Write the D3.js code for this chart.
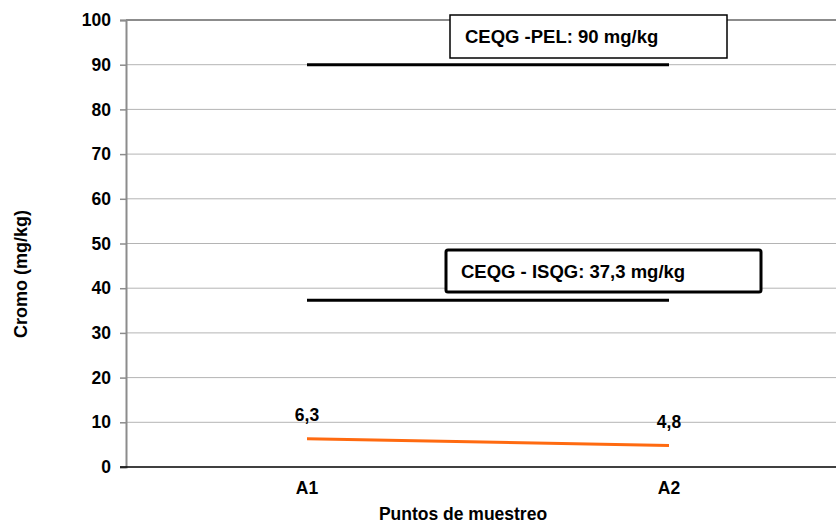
<!DOCTYPE html>
<html>
<head>
<meta charset="utf-8">
<script src="https://cdn.jsdelivr.net/npm/d3@7"></script>
<style>
  body { margin: 0; background: #fff; }
  text { font-family: "Liberation Sans", Arial, sans-serif; font-weight: bold; fill: #000; }
</style>
</head>
<body>
<div id="chart"></div>
<script>
var categories = ['A1', 'A2'];
var cromo = [6.3, 4.8];
var cromo_labels = ['6,3', '4,8'];
var pel_value = 90, isqg_value = 37.3;
var pel_text = 'CEQG -PEL: 90 mg/kg',
    isqg_text = 'CEQG - ISQG: 37,3 mg/kg';
var y_ticks = [0, 10, 20, 30, 40, 50, 60, 70, 80, 90, 100];

var svg_w = 836, svg_h = 525;
var margin = {top: 20, left: 126, bottom: 58, right: -14};

var svg = d3.select('#chart').append('svg')
    .attr('width', svg_w)
    .attr('height', svg_h);

var x = d3.scaleBand()
    .domain(categories)
    .range([margin.left, svg_w - margin.right]);

var y = d3.scaleLinear()
    .domain([0, 100])
    .range([svg_h - margin.bottom, margin.top]);

function cx(d) { return x(d) + x.bandwidth() / 2; }

// gridlines
svg.append('g')
  .selectAll('line')
  .data(y_ticks.slice(1))
  .join('line')
    .attr('x1', margin.left)
    .attr('x2', svg_w)
    .attr('y1', d => y(d))
    .attr('y2', d => y(d))
    .attr('stroke', d => d == 100 ? '#8c8c8c' : '#b4b4b4')
    .attr('stroke-width', d => d == 100 ? 2 : 1);

// y axis
var y_axis = svg.append('g')
    .attr('transform', 'translate(' + margin.left + ',0)')
    .call(d3.axisLeft(y).tickValues(y_ticks).tickSize(6).tickPadding(9));
y_axis.select('.domain').attr('stroke', '#8c8c8c').attr('stroke-width', 2);
y_axis.selectAll('.tick line').attr('stroke', '#8c8c8c').attr('stroke-width', 1.5);
y_axis.selectAll('.tick text')
    .style('font-family', '"Liberation Sans", Arial, sans-serif')
    .style('font-weight', 'bold')
    .attr('font-size', 17.5)
    .attr('fill', '#000');

// x axis
var x_axis = svg.append('g')
    .attr('transform', 'translate(0,' + y(0) + ')')
    .call(d3.axisBottom(x).tickSize(0).tickPadding(15));
x_axis.select('.domain').remove();
svg.append('line')
    .attr('x1', margin.left - 6)
    .attr('x2', svg_w)
    .attr('y1', y(0))
    .attr('y2', y(0))
    .attr('stroke', '#000')
    .attr('stroke-width', 1.5);
x_axis.selectAll('.tick text')
    .style('font-family', '"Liberation Sans", Arial, sans-serif')
    .style('font-weight', 'bold')
    .attr('font-size', 17.5)
    .attr('fill', '#000');

// reference lines
function draw_ref(v) {
  svg.append('line')
    .attr('x1', cx(categories[0]))
    .attr('x2', cx(categories[1]))
    .attr('y1', y(v))
    .attr('y2', y(v))
    .attr('stroke', '#000')
    .attr('stroke-width', 3);
}
draw_ref(pel_value);
draw_ref(isqg_value);

// data line
var line = d3.line()
    .x((d, i) => cx(categories[i]))
    .y(d => y(d));
svg.append('path')
    .datum(cromo)
    .attr('d', line)
    .attr('fill', 'none')
    .attr('stroke', '#ff6a10')
    .attr('stroke-width', 3);

svg.append('g')
  .selectAll('text')
  .data(cromo)
  .join('text')
    .attr('x', (d, i) => cx(categories[i]))
    .attr('y', d => y(d) - 18)
    .attr('text-anchor', 'middle')
    .attr('font-size', 17.5)
    .text((d, i) => cromo_labels[i]);

// label boxes
function add_box(txt, bx, by, bw, bh, sw, r) {
  svg.append('rect')
    .attr('x', bx).attr('y', by)
    .attr('width', bw).attr('height', bh)
    .attr('rx', r).attr('ry', r)
    .attr('fill', '#fff')
    .attr('stroke', '#000')
    .attr('stroke-width', sw);
  svg.append('text')
    .attr('x', bx + 15)
    .attr('y', by + 28)
    .attr('font-size', 18.5)
    .text(txt);
}
add_box(pel_text, 450, 15, 277, 43, 1.5, 0);
add_box(isqg_text, 446, 250, 315, 42, 3, 2);

// axis titles
svg.append('text')
    .attr('x', 463)
    .attr('y', 520)
    .attr('text-anchor', 'middle')
    .attr('font-size', 17.5)
    .text('Puntos de muestreo');

svg.append('text')
    .attr('transform', 'translate(27,274) rotate(-90)')
    .attr('text-anchor', 'middle')
    .attr('font-size', 18)
    .text('Cromo (mg/kg)');
</script>
</body>
</html>
